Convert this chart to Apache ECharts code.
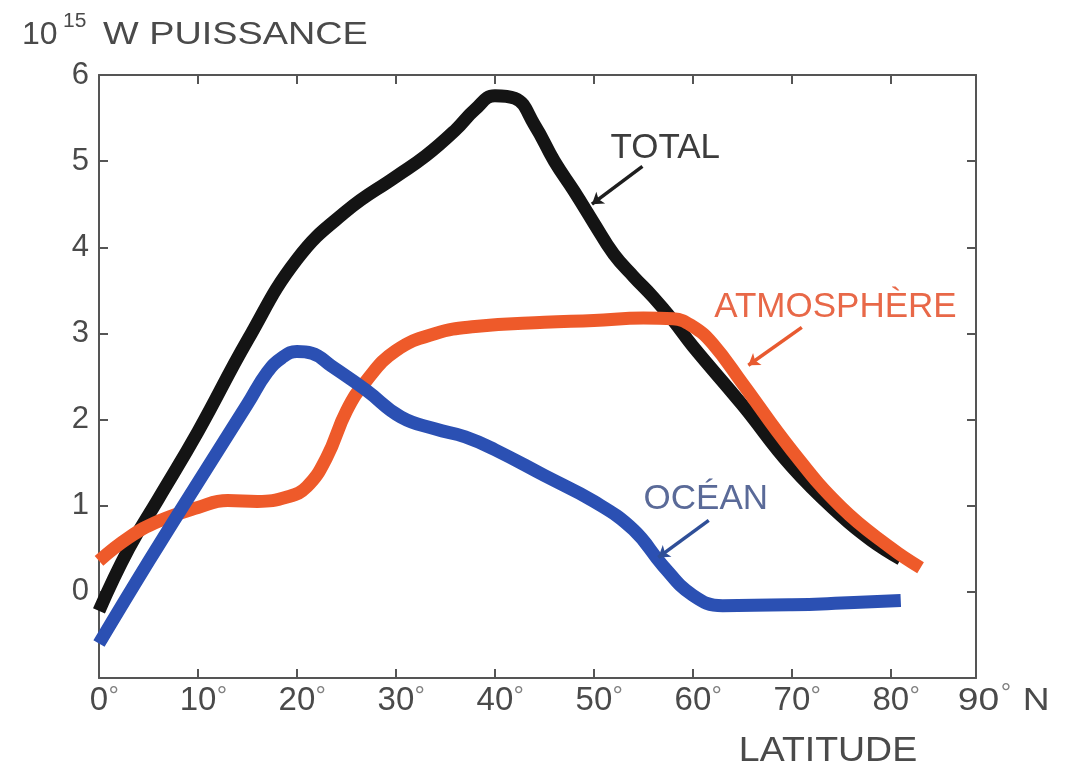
<!DOCTYPE html>
<html>
<head>
<meta charset="utf-8">
<script src="https://cdn.jsdelivr.net/npm/echarts@6/dist/echarts.min.js"></script>
<style>
html,body{margin:0;padding:0;background:#fff;}
#c{width:1074px;height:766px;}
</style>
</head>
<body>
<div id="c"></div>
<script>
// ---- data (latitude in degrees N, power in 10^15 W) ----
const latTotal = [0, 3, 6, 10, 15, 20, 25, 30, 33, 36, 38, 40, 42, 44, 46, 48, 50, 52, 54, 56, 58, 60, 65, 70, 75, 78, 81];
const valTotal = [-0.22, 0.5, 1.08, 1.86, 2.92, 3.86, 4.42, 4.82, 5.06, 5.36, 5.6, 5.76, 5.73, 5.42, 5.0, 4.65, 4.28, 3.92, 3.66, 3.42, 3.15, 2.85, 2.17, 1.45, 0.88, 0.6, 0.38];

const latAtm = [0, 3, 6, 10, 13, 16, 19, 21, 23, 25, 27, 30, 34, 38, 45, 50, 55, 58, 60, 62, 65, 70, 75, 80, 83];
const valAtm = [0.36, 0.63, 0.82, 0.98, 1.06, 1.05, 1.1, 1.22, 1.56, 2.1, 2.45, 2.8, 3.0, 3.08, 3.13, 3.15, 3.18, 3.17, 3.08, 2.88, 2.42, 1.64, 0.98, 0.51, 0.28];

const latOcean = [0, 5, 10, 15, 17, 18.5, 20, 21.5, 23.5, 27, 30.5, 34, 37, 40, 45, 50, 54, 57, 60, 63, 70, 75, 81];
const valOcean = [-0.6, 0.35, 1.27, 2.18, 2.55, 2.72, 2.79, 2.77, 2.62, 2.34, 2.03, 1.89, 1.8, 1.65, 1.35, 1.05, 0.72, 0.3, -0.04, -0.16, -0.15, -0.13, -0.1];

const xTickValues = [0, 10, 20, 30, 40, 50, 60, 70, 80];
const yTickLabels = ['0', '1', '2', '3', '4', '5', '6'];
const lastXLabel = ['90', '°', 'N'];
const xAxisTitle = 'LATITUDE';
const yTitleBase = '10';
const yTitleExp = '15';
const yTitleRest = 'W PUISSANCE';

// annotation labels and arrows (data coordinates)
const seriesNames = ['TOTAL', 'ATMOSPHÈRE', 'OCÉAN'];
const labelPos = [[57.2, 5.15], [74.4, 3.3], [61.3, 1.07]];
const arrowFrom = [[54.9, 4.94], [71.0, 3.07], [61.6, 0.83]];
const arrowTo = [[49.8, 4.5], [65.6, 2.63], [56.5, 0.40]];

const zip = (a, b) => a.map((x, i) => [x, b[i]]);

const lineColors = ['#141414', '#ee5a2a', '#2b50b3'];
const textColors = ['#3c3c3c', '#e86848', '#5a6a98'];
const arrowColors = ['#1e1e1e', '#e85a30', '#2f4f98'];
const FONT = '"Liberation Sans", Arial, sans-serif';
const AXIS_C = '#555';
const TXT_C = '#4a4a4a';

const chart = echarts.init(document.getElementById('c'), null, {renderer: 'canvas'});

function mkSeries(i, lats, vals) {
  return {
    name: seriesNames[i],
    type: 'line',
    data: zip(lats, vals),
    smooth: 0.45,
    showSymbol: false,
    silent: true,
    z: 2 + i,
    lineStyle: {color: lineColors[i], width: 13, cap: 'butt', join: 'round'},
    markLine: {
      silent: true,
      symbol: ['none', 'arrow'],
      symbolSize: 11,
      label: {show: false},
      lineStyle: {color: arrowColors[i], width: 3.5, type: 'solid'},
      data: [[{coord: arrowFrom[i]}, {coord: arrowTo[i]}]]
    },
    markPoint: {
      silent: true,
      symbol: 'circle',
      symbolSize: 1,
      itemStyle: {color: 'rgba(0,0,0,0)'},
      label: {
        show: true, position: 'inside', formatter: seriesNames[i],
        fontFamily: FONT, fontSize: 35, color: textColors[i]
      },
      data: [{coord: labelPos[i]}]
    }
  };
}

const degRich = {
  p: {width: 11},
  n: {fontFamily: FONT, fontSize: 33, color: TXT_C},
  d: {fontFamily: FONT, fontSize: 26, color: '#808080', width: 11, verticalAlign: 'top', lineHeight: 33}
};

const option = {
  backgroundColor: '#fff',
  animation: false,
  grid: {left: 99, right: 98, top: 75, bottom: 88, containLabel: false},
  xAxis: [
    {
      type: 'value', min: 0, max: 88.6, interval: 10, position: 'bottom',
      axisLine: {show: true, onZero: false, lineStyle: {color: AXIS_C, width: 2}},
      axisTick: {show: true, inside: true, length: 9, lineStyle: {color: AXIS_C, width: 2}},
      splitLine: {show: false},
      axisLabel: {
        margin: 6, rich: degRich,
        formatter: v => xTickValues.indexOf(v) >= 0 ? '{p|}{n|' + v + '}{d|°}' : ''
      }
    },
    {
      type: 'value', min: 0, max: 88.6, interval: 10, position: 'top',
      axisLine: {show: true, onZero: false, lineStyle: {color: AXIS_C, width: 2}},
      axisTick: {show: true, inside: true, length: 9, lineStyle: {color: AXIS_C, width: 2}},
      splitLine: {show: false},
      axisLabel: {show: false}
    }
  ],
  yAxis: [
    {
      type: 'value', min: -1, max: 6, interval: 1, position: 'left',
      axisLine: {show: true, onZero: false, lineStyle: {color: AXIS_C, width: 2}},
      axisTick: {show: true, inside: true, length: 9, lineStyle: {color: AXIS_C, width: 2}},
      splitLine: {show: false},
      axisLabel: {
        margin: 10, fontFamily: FONT, fontSize: 31, color: TXT_C,
        formatter: v => { const k = yTickLabels.indexOf(String(v)); return k >= 0 ? yTickLabels[k] : ''; }
      }
    },
    {
      type: 'value', min: -1, max: 6, interval: 1, position: 'right',
      axisLine: {show: true, onZero: false, lineStyle: {color: AXIS_C, width: 2}},
      axisTick: {show: true, inside: true, length: 9, lineStyle: {color: AXIS_C, width: 2}},
      splitLine: {show: false},
      axisLabel: {show: false}
    }
  ],
  series: [
    mkSeries(0, latTotal, valTotal),
    mkSeries(1, latAtm, valAtm),
    mkSeries(2, latOcean, valOcean)
  ]
};
chart.setOption(option);

const p90 = chart.convertToPixel({xAxisIndex: 0}, 90);
const yBottom = chart.convertToPixel({yAxisIndex: 0}, -1);
const txt = (x, y, text, size, sx, align) => ({
  type: 'text', silent: true, x: x, y: y, scaleX: sx || 1,
  style: {text: text, fontFamily: FONT, fontSize: size, fill: TXT_C, align: align || 'left', verticalAlign: 'middle'}
});
chart.setOption({
  graphic: [
    txt(22, 35, yTitleBase, 32, 1.0),
    txt(63, 21, yTitleExp, 20, 1.05),
    txt(103, 35, yTitleRest, 31, 1.22),
    txt(p90 - 32, yBottom + 23, lastXLabel[0], 31, 1.2),
    {
      type: 'text', silent: true, x: p90 + 11, y: yBottom + 16,
      style: {text: lastXLabel[1], fontFamily: FONT, fontSize: 26, fill: '#808080', align: 'left', verticalAlign: 'middle'}
    },
    txt(p90 + 33, yBottom + 23, lastXLabel[2], 31, 1.2),
    txt(828, 751, xAxisTitle, 35, 1.07, 'center')
  ]
});
</script>
</body>
</html>
